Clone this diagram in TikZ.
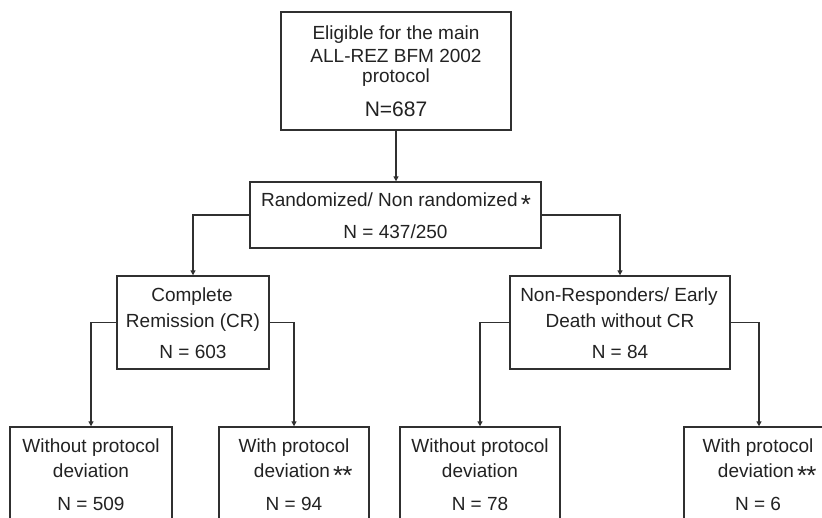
\documentclass[tikz,border=0pt]{standalone}
\usepackage{fontspec}
\setmainfont{Liberation Sans}
\usetikzlibrary{arrows.meta}
\definecolor{ink}{HTML}{222222}
\definecolor{edge}{HTML}{303030}
\newcommand{\myast}{\raisebox{-7pt}{\fontsize{26}{26}\selectfont *}}
\begin{document}
\begin{tikzpicture}[x=1pt,y=-1pt,
  box/.style={draw=edge,line width=1.4pt,rectangle,inner sep=0pt},
  txt/.style={anchor=base,inner sep=0pt,text=ink,font=\fontsize{19}{22}\selectfont},
  bigtxt/.style={anchor=base,inner sep=0pt,text=ink,font=\fontsize{21}{24}\selectfont},
  arr/.style={draw=edge,line width=1.3pt,-{Triangle[length=5pt,width=5pt]}}]
\clip (0,0) rectangle (822,517);
\fill[white] (0,0) rectangle (822,517);
% boxes
\node[box,minimum width=230pt,minimum height=118pt] (top) at (396,71) {};
\node[box,minimum width=291pt,minimum height=66pt] (rand) at (395.5,215) {};
\node[box,minimum width=152pt,minimum height=93pt] (cr) at (193,322.5) {};
\node[box,minimum width=220pt,minimum height=93pt] (nr) at (620,322.5) {};
\node[box,minimum width=162pt,minimum height=118pt] (b1) at (91,486) {};
\node[box,minimum width=150pt,minimum height=118pt] (b2) at (294,486) {};
\node[box,minimum width=160pt,minimum height=118pt] (b3) at (480,486) {};
\node[box,minimum width=150pt,minimum height=118pt] (b4) at (759,486) {};
% texts
\node[txt] (t1) at (396,39) {Eligible for the main};
\node[txt] (t2) at (396,62) {ALL-REZ BFM 2002};
\node[txt] (t3) at (396,82) {protocol};
\node[bigtxt] (t4) at (396,116) {N=687};
\node[txt] (r1) at (396,206) {Randomized/ Non randomized\,\myast};
\node[txt] (r2) at (395.5,238) {N = 437/250};
\node[txt] (c1) at (192,301) {Complete};
\node[txt] (c2) at (193,327) {Remission (CR)};
\node[txt] (c3) at (193,358) {N = 603};
\node[txt] (n1) at (619,301) {Non-Responders/ Early};
\node[txt] (n2) at (620,327) {Death without CR};
\node[txt] (n3) at (620,358) {N = 84};
\node[txt] (a1) at (91,452) {Without protocol};
\node[txt] (a2) at (91,477) {deviation};
\node[txt] (a3) at (91,510) {N = 509};
\node[txt] (d1) at (294,452) {With protocol};
\node[txt] (d2) at (292,477) {deviation\rlap{\,\myast\kern-1pt\myast}};
\node[txt] (d3) at (294,510) {N = 94};
\node[txt] (e1) at (480,452) {Without protocol};
\node[txt] (e2) at (480,477) {deviation};
\node[txt] (e3) at (480,510) {N = 78};
\node[txt] (f1) at (758,452) {With protocol};
\node[txt] (f2) at (756,477) {deviation\rlap{\,\myast\kern-1pt\myast}};
\node[txt] (f3) at (758,510) {N = 6};
% connectors
\draw[arr] (top.south) -- (top.south |- rand.north);
\draw[arr] (rand.west) -| (cr.north);
\draw[arr] (rand.east) -| (nr.north);
\draw[arr] (cr.west) -| (b1.north);
\draw[arr] (cr.east) -| (b2.north);
\draw[arr] (nr.west) -| (b3.north);
\draw[arr] (nr.east) -| (b4.north);
\end{tikzpicture}
\end{document}
